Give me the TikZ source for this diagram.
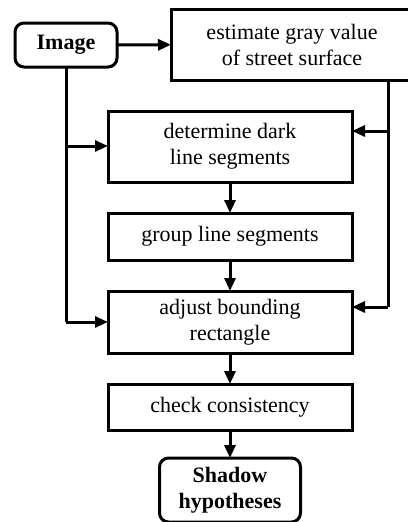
\documentclass[tikz,border=0pt]{standalone}
\usepackage{fontspec}
\setmainfont{Liberation Serif}
\usetikzlibrary{arrows.meta}
\begin{document}
\begin{tikzpicture}[x=1pt,y=-1pt,
  every node/.style={inner sep=0pt,outer sep=0pt,align=center,
    font=\fontsize{22}{26}\selectfont},
  proc/.style={draw,line width=3pt,rectangle,minimum width=244pt},
  term/.style={draw,line width=3pt,rectangle,rounded corners=9pt,
    font=\fontsize{22}{26}\selectfont\bfseries},
  flow/.style={line width=3pt,-{Triangle[length=13pt,width=11pt]}},
  wire/.style={line width=3pt}]
\useasboundingbox (0,0) rectangle (407,522);
% input and side estimate
\node[term,minimum width=102pt,minimum height=44pt] (img) at (66,45) {Image};
\node[proc,minimum width=242pt,minimum height=71pt] (est) at (292,44.5)
  {estimate gray value\\of street surface};
% main chain
\node[proc,minimum height=71pt] (det) at (230,146.5) {determine dark\\line segments};
\node[proc,minimum height=47pt] (grp) at (230,236.5) {group line segments};
\node[proc,minimum height=62pt] (adj) at (230,322) {adjust bounding\\rectangle};
\node[proc,minimum height=46pt] (chk) at (230,407) {check consistency};
\node[term,minimum width=141pt,minimum height=64pt] (out) at (230,490)
  {Shadow\\hypotheses};
% junction points of the side wires
\coordinate (lt) at (66,146);
\coordinate (lb) at (66,322);
\coordinate (rt) at (388,131);
\coordinate (rb) at (388,307);
\coordinate (rs) at (388,80);
% connectors
\draw[flow] (img) -- (est);
\draw[flow] (det) -- (grp);
\draw[flow] (grp) -- (adj);
\draw[flow] (adj) -- (chk);
\draw[flow] (chk) -- (out);
\draw[wire] (img.south) -- (lb);
\draw[flow] (lt) -- (lt -| det.west);
\draw[flow] (lb) -- (lb -| adj.west);
\draw[wire] (rs) -- (rb);
\draw[flow] (rt) -- (rt -| det.east);
\draw[flow] (rb) -- (rb -| adj.east);
\end{tikzpicture}
\end{document}
